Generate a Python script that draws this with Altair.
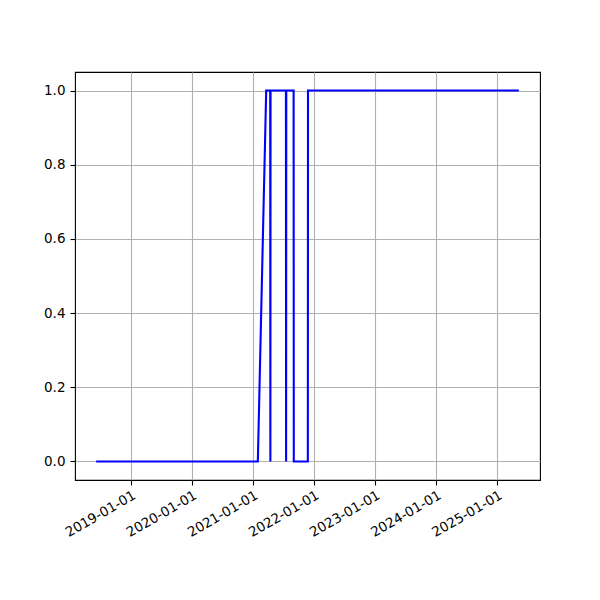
import altair as alt
import pandas as pd

dates = ["2018-06-08", "2021-01-30", "2021-03-21", "2021-04-14", "2021-04-15", "2021-04-16",
         "2021-07-17", "2021-07-18", "2021-07-19", "2021-09-01", "2021-09-02",
         "2021-11-25", "2021-11-26", "2025-05-10"]
values = [0, 0, 1, 1, 0, 1, 1, 0, 1, 1, 0, 0, 1, 1]
tick_dates = ["2019-01-01", "2020-01-01", "2021-01-01", "2022-01-01",
              "2023-01-01", "2024-01-01", "2025-01-01"]
y_ticks = [0.0, 0.2, 0.4, 0.6, 0.8, 1.0]

df = pd.DataFrame({"date": pd.to_datetime(dates), "value": values})
df["ms"] = (df["date"] - pd.Timestamp("1970-01-01")) // pd.Timedelta(milliseconds=1)
d0, d1 = df["ms"].min(), df["ms"].max()
pad = (d1 - d0) * 0.05
tick_ms = [int((pd.Timestamp(t) - pd.Timestamp("1970-01-01")) // pd.Timedelta(milliseconds=1)) for t in tick_dates]

FONT = "DejaVu Sans"

chart = alt.Chart(df).mark_line(color="#0000ff", strokeWidth=2.1, clip=True).encode(
    x=alt.X("ms:T", scale=alt.Scale(type="utc", domain=[int(d0 - pad), int(d1 + pad)], nice=False),
            axis=alt.Axis(values=tick_ms, labelExpr="utcFormat(datum.value, '%Y-%m-%d')", title=None,
                          labelAngle=-30, labelAlign="right", labelBaseline="top",
                          labelPadding=3, labelFlush=False, labelOverlap=False)),
    y=alt.Y("value:Q", scale=alt.Scale(domain=[-0.05, 1.05], nice=False, zero=False),
            axis=alt.Axis(values=y_ticks, format=".1f", title=None, labelPadding=5)),
).properties(
    width=465, height=408,
    autosize=alt.AutoSizeParams(type="none"),
    padding={"left": 67, "top": 64, "right": 20, "bottom": 70},
).configure_view(
    stroke="black", strokeWidth=1.1
).configure_axis(
    grid=True, gridColor="#b0b0b0", gridWidth=1.1,
    domain=False, ticks=True, tickColor="black", tickSize=5, tickWidth=1.1,
    labelFont=FONT, labelFontSize=13.5, labelColor="black",
)

chart.save("out.html", embed_options={"renderer": "svg", "actions": False})
